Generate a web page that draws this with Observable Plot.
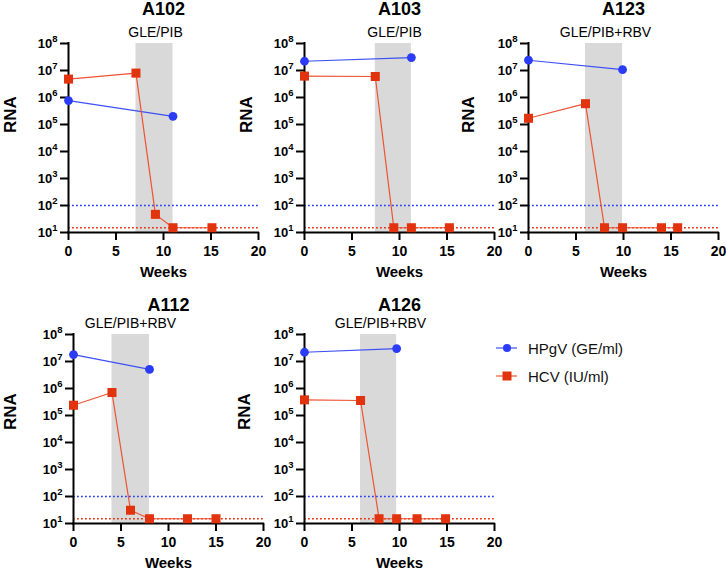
<!DOCTYPE html>
<html>
<head>
<meta charset="utf-8">
<script src="https://cdn.jsdelivr.net/npm/d3@7"></script>
<script src="https://cdn.jsdelivr.net/npm/@observablehq/plot@0.6"></script>
<style>
  html, body { margin: 0; padding: 0; background: #fff; }
  body { width: 726px; height: 570px; position: relative; overflow: hidden; font-family: "Liberation Sans", Arial, Helvetica, sans-serif; }
  .panel { position: absolute; }
  .legend { position: absolute; left: 494px; top: 334px; font-size: 15px; color: #111; }
  .legend .row { display: flex; align-items: center; height: 28px; }
  .legend svg { width: 30px; height: 14px; margin-right: 4px; }
</style>
</head>
<body>
<script>
// ---- data ----
const panelNames = ["A102", "A103", "A123", "A112", "A126"];
const regimens = ["GLE/PIB", "GLE/PIB", "GLE/PIB+RBV", "GLE/PIB+RBV", "GLE/PIB+RBV"];
const treatStart = [7.1, 7.45, 6.0, 4.05, 5.9];
const treatEnd = [11.0, 11.25, 9.9, 8.0, 9.7];
const hpgvWeeks = [[0, 11], [0, 11.25], [0, 9.9], [0, 8], [0, 9.7]];
const hpgvValues = [[7.7e5, 2.0e5], [2.2e7, 3.0e7], [2.4e7, 1.07e7], [1.8e7, 5.1e6], [2.2e7, 3.0e7]];
const hcvWeeks = [
  [0, 7.1, 9.15, 11, 15.1],
  [0, 7.45, 9.4, 11.25, 15.25],
  [0, 6, 8, 9.9, 14, 15.7],
  [0, 4.05, 6, 8, 12, 15],
  [0, 5.9, 7.85, 9.7, 11.85, 14.85]
];
const hcvValues = [
  [4.8e6, 8.0e6, 47, 15, 15],
  [6.2e6, 6.0e6, 15, 15, 15],
  [1.7e5, 5.9e5, 15, 15, 15, 15],
  [2.4e5, 7.1e5, 31, 15, 15, 15],
  [3.8e5, 3.6e5, 15, 15, 15, 15]
];
const hpgvLimit = 100;
const hcvLimit = 15;
const xTicks = [0, 5, 10, 15, 20];
const yTicks = [1e1, 1e2, 1e3, 1e4, 1e5, 1e6, 1e7, 1e8];
const seriesNames = ["HPgV (GE/ml)", "HCV (IU/ml)"];

// ---- layout / style ----
const BLUE = "#2a3cf7", BLUE_LINE = "#3d50f5";
const RED = "#e2330f", RED_LINE = "#ef5230";
const FONT = "'Liberation Sans', Arial, Helvetica, sans-serif";
const layout = [
  {left: 2, top: 0, titleDy: -34, subDx: -8, rnaDx: -58, rnaDy: -5},
  {left: 238, top: 0, titleDy: -34, subDx: -5, rnaDx: -58, rnaDy: -5},
  {left: 462, top: 0, titleDy: -34, subDx: -18, rnaDx: -60, rnaDy: -5},
  {left: 7, top: 291, titleDy: -29, subDx: -38, rnaDx: -63, rnaDy: 1},
  {left: 238, top: 291, titleDy: -29, subDx: -19, rnaDx: -60, rnaDy: 1}
];

panelNames.forEach((name, i) => {
  const hpgv = hpgvWeeks[i].map((w, j) => ({week: w, value: hpgvValues[i][j]}));
  const hcv = hcvWeeks[i].map((w, j) => ({week: w, value: hcvValues[i][j]}));
  const L = layout[i];
  const chart = Plot.plot({
    width: 262,
    height: 278,
    marginLeft: 66,
    marginRight: 6,
    marginTop: 43,
    marginBottom: 46,
    style: {fontFamily: FONT, background: "transparent", overflow: "visible", color: "#000"},
    x: {domain: [0, 20]},
    y: {type: "log", domain: [10, 1e8]},
    marks: [
      Plot.rect([0], {x1: () => treatStart[i], x2: () => treatEnd[i], y1: () => 10, y2: () => 1e8, fill: "#d9d9d9"}),
      Plot.ruleY([hpgvLimit], {stroke: BLUE, strokeWidth: 1.6, strokeDasharray: "1.8,2.2"}),
      Plot.ruleY([hcvLimit], {stroke: RED, strokeWidth: 1.6, strokeDasharray: "1.8,2.2"}),
      Plot.axisX({ticks: xTicks, tickSize: 8, tickPadding: 6, strokeWidth: 2, fontSize: 14, fontWeight: "bold", label: null}),
      Plot.axisY({ticks: yTicks, tickSize: 8, tickPadding: 3, strokeWidth: 2, fontSize: 13, fontWeight: "bold", label: null,
                  tickFormat: d => String(Math.round(Math.log10(d)))}),
      Plot.ruleX([0], {strokeWidth: 2, strokeLinecap: "square"}),
      Plot.ruleY([10], {strokeWidth: 2, strokeLinecap: "square"}),
      Plot.line(hpgv, {x: "week", y: "value", stroke: BLUE_LINE, strokeWidth: 1.2}),
      Plot.line(hcv, {x: "week", y: "value", stroke: RED_LINE, strokeWidth: 1.2}),
      Plot.dot(hpgv, {x: "week", y: "value", fill: BLUE, r: 4.4, symbol: "circle"}),
      Plot.dot(hcv, {x: "week", y: "value", fill: RED, r: 5.1, symbol: "square"}),
      Plot.text([name], {frameAnchor: "top", lineAnchor: "middle", dy: L.titleDy, fontSize: 18, fontWeight: "bold"}),
      Plot.text([regimens[i]], {frameAnchor: "top", lineAnchor: "middle", dx: L.subDx, dy: -10.5, fontSize: 14}),
      Plot.text(["RNA"], {frameAnchor: "left", lineAnchor: "middle", rotate: -90, dx: L.rnaDx, dy: L.rnaDy, fontSize: 17, fontWeight: "bold"}),
      Plot.text(["Weeks"], {frameAnchor: "bottom", lineAnchor: "middle", dy: 39.5, fontSize: 15, fontWeight: "bold"})
    ]
  });
  // superscript exponents on y tick labels: 10^n
  chart.querySelectorAll('g[aria-label="y-axis tick label"] text').forEach(t => {
    const e = t.textContent;
    t.textContent = "10";
    const ts = document.createElementNS("http://www.w3.org/2000/svg", "tspan");
    ts.setAttribute("dy", "-0.6em");
    ts.setAttribute("font-size", "9.5");
    ts.textContent = e;
    t.appendChild(ts);
  });
  const div = document.createElement("div");
  div.className = "panel";
  div.style.left = L.left + "px";
  div.style.top = L.top + "px";
  div.appendChild(chart);
  document.body.appendChild(div);
});

// legend
const legend = document.createElement("div");
legend.className = "legend";
legend.innerHTML = `
  <div class="row"><svg viewBox="0 0 30 14"><line x1="2" y1="7" x2="23" y2="7" stroke="${BLUE_LINE}" stroke-width="1.2"/><circle cx="13" cy="7" r="4" fill="${BLUE}"/></svg><span>${seriesNames[0]}</span></div>
  <div class="row"><svg viewBox="0 0 30 14"><line x1="2" y1="7" x2="23" y2="7" stroke="${RED_LINE}" stroke-width="1.2"/><rect x="8.5" y="2.5" width="9" height="9" fill="${RED}"/></svg><span>${seriesNames[1]}</span></div>`;
document.body.appendChild(legend);
</script>
</body>
</html>
